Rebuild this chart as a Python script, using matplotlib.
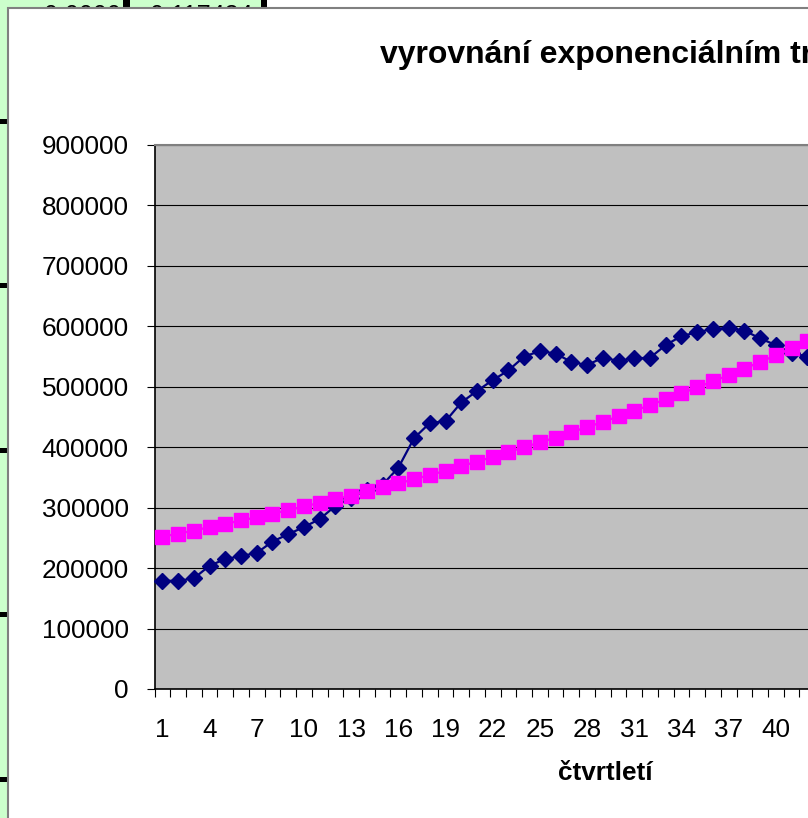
import matplotlib
matplotlib.use("Agg")
import matplotlib.pyplot as plt
from matplotlib.patches import Rectangle

plt.rcParams['font.family'] = ['Liberation Sans', 'DejaVu Sans']

# data (only the visible quarters)
quarters = list(range(1, 43))
actual = [179000, 179000, 183000, 204000, 215000, 220000, 225000, 244000, 256000, 268000,
          281000, 303000, 316000, 330000, 338000, 366000, 415000, 440000, 443000, 474000,
          493000, 511000, 527000, 550000, 559000, 555000, 541000, 536000, 548000, 543000,
          547000, 548000, 569000, 584000, 590000, 596000, 597000, 593000, 580000, 569000,
          556000, 550000]
trend = [252000, 257000, 262000, 268000, 273000, 279000, 284000, 290000, 296000, 302000,
         308000, 314000, 320000, 327000, 334000, 340000, 347000, 354000, 361000, 369000,
         376000, 384000, 392000, 400000, 408000, 416000, 425000, 433000, 442000, 451000,
         460000, 470000, 479000, 489000, 499000, 509000, 519000, 530000, 541000, 552000,
         564000, 575000]
n_cat = 57
yticks = [0, 100000, 200000, 300000, 400000, 500000, 600000, 700000, 800000, 900000]
xlabels = list(range(1, 41, 3))   # labels that fall inside the visible part

W, H = 808, 818
fig = plt.figure(figsize=(W / 100, H / 100), dpi=100, facecolor="white")

def px(x, y, w, h):
    # pixel box (top-left origin) -> figure fraction
    return (x / W, 1 - (y + h) / H, w / W, h / H)

green = "#CCFFCC"
# spreadsheet cells behind the chart
for box in [px(0, 0, 8, H), px(0, 0, 262, 8)]:
    x0, y0, w0, h0 = box
    fig.add_artist(Rectangle((x0, y0), w0, h0, transform=fig.transFigure,
                             facecolor=green, edgecolor="none", zorder=-5))
for yc in [121.5, 286, 450.7, 614.7, 779.5]:
    x0, y0, w0, h0 = px(0, yc - 2.5, 8, 5)
    fig.add_artist(Rectangle((x0, y0), w0, h0, transform=fig.transFigure,
                             facecolor="black", edgecolor="none", zorder=-4))
for xl, xr in [(123, 130), (261, 267)]:
    x0, y0, w0, h0 = px(xl, 0, xr - xl, 8)
    fig.add_artist(Rectangle((x0, y0), w0, h0, transform=fig.transFigure,
                             facecolor="black", edgecolor="none", zorder=-4))
fig.text(44 / W, 1 - 4 / H, "0,0000", fontsize=18, va="top", ha="left", zorder=-4)
fig.text(150 / W, 1 - 4 / H, "0,117434", fontsize=18, va="top", ha="left", zorder=-4)

# chart area
x0, y0, w0, h0 = px(8, 8, 1400, 1000)
fig.add_artist(Rectangle((x0, y0), w0, h0, transform=fig.transFigure,
                         facecolor="white", edgecolor="#808080", linewidth=1.5, zorder=-2))

cat_w = 15.73
ax = fig.add_axes(px(154.5, 145, n_cat * cat_w, 544))
ax.set_facecolor("#C0C0C0")
ax.set_xlim(0.5, n_cat + 0.5)
ax.set_ylim(0, 900000)

ax.plot(quarters, actual, color="#000080", linewidth=1.6, marker="D",
        markersize=8, markerfacecolor="#000080", markeredgecolor="#000080",
        zorder=3, clip_on=False)
ax.plot(quarters, trend, color="#FF00FF", linewidth=1.6, marker="s",
        markersize=10.6, markerfacecolor="#FF00FF", markeredgecolor="#FF00FF",
        zorder=4, clip_on=False)

ax.set_yticks(yticks)
ax.set_yticklabels([str(v) for v in yticks])
ax.yaxis.grid(True, color="black", linewidth=0.8)
ax.set_axisbelow(True)
ax.tick_params(axis="y", length=5.5, width=0.8, pad=13, labelsize=18.8, direction="out")

ax.set_xticks(xlabels)
ax.set_xticklabels([str(v) for v in xlabels])
ax.set_xticks([i + 0.5 for i in range(0, n_cat + 1)], minor=True)
ax.tick_params(axis="x", which="major", length=0, pad=21, labelsize=18.8)
ax.tick_params(axis="x", which="minor", length=5.5, width=0.8, direction="out")

for side in ["left", "bottom"]:
    ax.spines[side].set_color("black")
    ax.spines[side].set_linewidth(1.2)
for side in ["top", "right"]:
    ax.spines[side].set_color("#808080")
    ax.spines[side].set_linewidth(1.5)

fig.text(380 / W, 1 - 63 / H, "vyrovnání exponenciálním trendem", fontsize=23,
         fontweight="bold", ha="left", va="baseline")
fig.text(605.5 / W, 1 - 780 / H, "čtvrtletí", fontsize=18.8, fontweight="bold",
         ha="center", va="baseline")

fig.savefig("out.png", dpi=100)
